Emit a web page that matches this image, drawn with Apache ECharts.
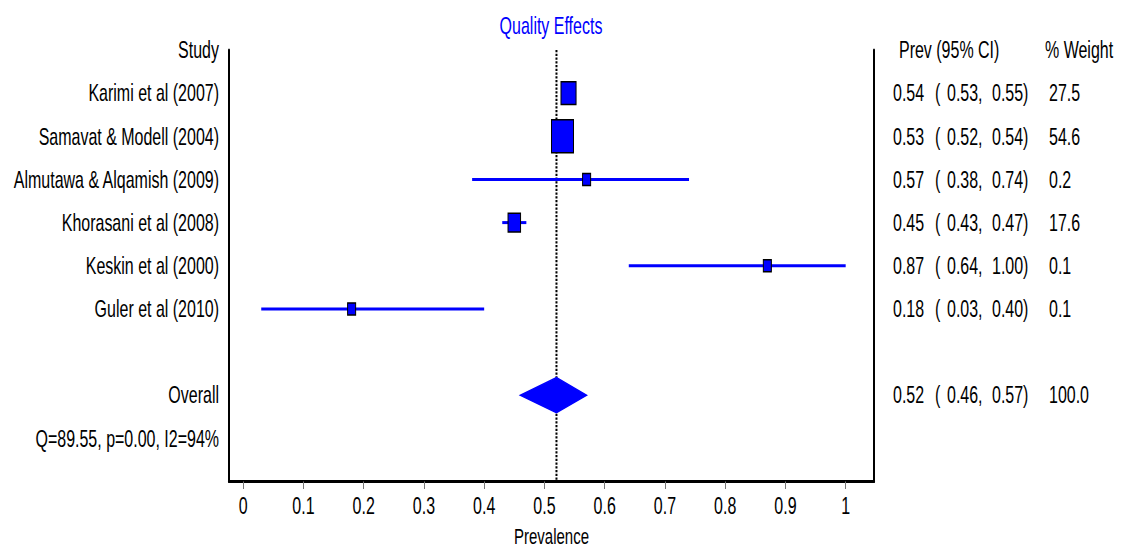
<!DOCTYPE html>
<html>
<head>
<meta charset="utf-8">
<script src="https://cdn.jsdelivr.net/npm/echarts@6/dist/echarts.min.js"></script>
<style>
  html, body { margin: 0; padding: 0; background: #fff; }
  body { height: 548px; }
  /* the plot is laid out on a short canvas and shown stretched 1.5x in height */
  #chart {
    width: 1123px;
    height: 365.33px;
    transform: scaleY(1.5);
    transform-origin: 0 0;
  }
</style>
</head>
<body>
<div id="chart"></div>
<script>
// Study rows of the forest plot
const studies = [
  'Karimi et al (2007)',
  'Samavat & Modell (2004)',
  'Almutawa & Alqamish (2009)',
  'Khorasani et al (2008)',
  'Keskin et al (2000)',
  'Guler et al (2010)'
];
const prev    = [0.54, 0.53, 0.57, 0.45, 0.87, 0.18];
const ciLow   = [0.53, 0.52, 0.38, 0.43, 0.64, 0.03];
const ciHigh  = [0.55, 0.54, 0.74, 0.47, 1.00, 0.40];
const weights = [27.5, 54.6, 0.2, 17.6, 0.1, 0.1];

// Pooled estimate
const overallLabel  = 'Overall';
const overallPrev   = 0.52;
const overallLow    = 0.46;
const overallHigh   = 0.57;
const overallWeight = 100.0;
const heterogeneity = 'Q=89.55, p=0.00, I2=94%';

// Header texts and x tick labels
const headerStudy  = 'Study';
const headerPrev   = 'Prev (95% CI)';
const headerWeight = '% Weight';
const titleText    = 'Quality Effects';
const xName        = 'Prevalence';
const xTicks       = [0, 0.1, 0.2, 0.3, 0.4, 0.5, 0.6, 0.7, 0.8, 0.9, 1];

// Row layout: header, studies, blank, overall, heterogeneity, bottom edge
const rowLabels = [headerStudy].concat(studies, ['', overallLabel, heterogeneity, '']);
const overallRow = studies.length + 2;

const FONT = "'Liberation Sans', Arial, sans-serif";
const BLUE = '#0000FF';
const FS = 16;

const maxW = Math.max.apply(null, weights);
function boxSize(w) {
  return 8 + 14 * w / maxW;
}

const ciData = studies.map((s, i) => [ciLow[i], ciHigh[i], i + 1]);
const pointData = studies.map((s, i) => ({
  value: [prev[i], i + 1],
  symbolSize: boxSize(weights[i])
}));

function rightLabel(value, index) {
  if (index === 0) {
    return '{h1|' + headerPrev + '}{h2|' + headerWeight + '}';
  }
  let e, lo, hi, w;
  if (index >= 1 && index <= studies.length) {
    const i = index - 1;
    e = prev[i]; lo = ciLow[i]; hi = ciHigh[i]; w = weights[i];
  } else if (index === overallRow) {
    e = overallPrev; lo = overallLow; hi = overallHigh; w = overallWeight;
  } else {
    return '';
  }
  return '{e|' + e.toFixed(2) + '}{p|(}{l|' + lo.toFixed(2) + ',}{u|' +
         hi.toFixed(2) + ')}{w|' + w.toFixed(1) + '}';
}

const chart = echarts.init(document.getElementById('chart'), null, { renderer: 'svg' });

const txt = { fontFamily: FONT, fontSize: FS, color: '#000' };

chart.setOption({
  animation: false,
  backgroundColor: '#fff',
  textStyle: { fontFamily: FONT },
  title: {
    text: titleText,
    left: 551,
    top: 9,
    padding: 0,
    textAlign: 'center',
    textStyle: { fontFamily: FONT, fontSize: 16, fontWeight: 'normal', color: BLUE }
  },
  grid: { left: 229, right: 249, top: 33.33, bottom: 44, containLabel: false, outerBoundsMode: 'none' },
  xAxis: {
    type: 'value',
    min: -0.0235,
    max: 1.047,
    name: xName,
    nameLocation: 'middle',
    nameGap: 29,
    nameTextStyle: { fontFamily: FONT, fontSize: 15, lineHeight: 12, color: '#000' },
    axisLine: { show: true, onZero: false, lineStyle: { color: '#000', width: 2 } },
    axisTick: { show: true, customValues: xTicks, length: 5, lineStyle: { color: '#777', width: 1 } },
    axisLabel: Object.assign({ customValues: xTicks, margin: 8, formatter: v => String(v) }, txt),
    splitLine: { show: false }
  },
  yAxis: [
    {
      type: 'category',
      inverse: true,
      boundaryGap: false,
      data: rowLabels,
      axisLine: { show: true, onZero: false, lineStyle: { color: '#000', width: 2 } },
      axisTick: { show: false },
      axisLabel: Object.assign({ interval: 0, margin: 10 }, txt),
      splitLine: { show: false }
    },
    {
      type: 'category',
      position: 'right',
      inverse: true,
      boundaryGap: false,
      data: rowLabels,
      axisLine: { show: true, onZero: false, lineStyle: { color: '#000', width: 2 } },
      axisTick: { show: false },
      axisLabel: {
        interval: 0,
        margin: 19,
        formatter: rightLabel,
        rich: {
          h1: Object.assign({ width: 146, padding: [0, 0, 0, 6] }, txt),
          h2: Object.assign({}, txt),
          e: Object.assign({ width: 42 }, txt),
          p: Object.assign({ width: 12 }, txt),
          l: Object.assign({ width: 45 }, txt),
          u: Object.assign({ width: 57 }, txt),
          w: Object.assign({}, txt)
        }
      },
      splitLine: { show: false }
    }
  ],
  series: [
    {
      // pooled estimate reference line
      type: 'line',
      data: [[overallPrev, 0], [overallPrev, rowLabels.length - 1]],
      symbol: 'none',
      lineStyle: { color: '#000', width: 2, type: [1.5, 1] },
      z: 1,
      silent: true
    },
    {
      // confidence intervals
      type: 'custom',
      data: ciData,
      encode: { x: [0, 1], y: 2 },
      renderItem: function (params, api) {
        const a = api.coord([api.value(0), api.value(2)]);
        const b = api.coord([api.value(1), api.value(2)]);
        return {
          type: 'line',
          shape: { x1: a[0], y1: a[1], x2: b[0], y2: b[1] },
          style: { stroke: BLUE, lineWidth: 2 }
        };
      },
      z: 2
    },
    {
      // study estimates, box area by weight
      type: 'scatter',
      data: pointData,
      symbol: 'rect',
      itemStyle: { color: BLUE, borderColor: '#000', borderWidth: 1, opacity: 1 },
      z: 3
    },
    {
      // pooled estimate diamond
      type: 'custom',
      data: [[overallLow, overallPrev, overallHigh, overallRow]],
      encode: { x: [0, 1, 2], y: 3 },
      renderItem: function (params, api) {
        const y = api.value(3);
        const l = api.coord([api.value(0), y]);
        const c = api.coord([api.value(1), y]);
        const r = api.coord([api.value(2), y]);
        const h = 11.7;
        return {
          type: 'polygon',
          shape: { points: [[l[0], l[1]], [c[0], c[1] - h], [r[0], r[1]], [c[0], c[1] + h]] },
          style: { fill: BLUE, stroke: BLUE, lineWidth: 1 }
        };
      },
      z: 4
    }
  ]
});
</script>
</body>
</html>
